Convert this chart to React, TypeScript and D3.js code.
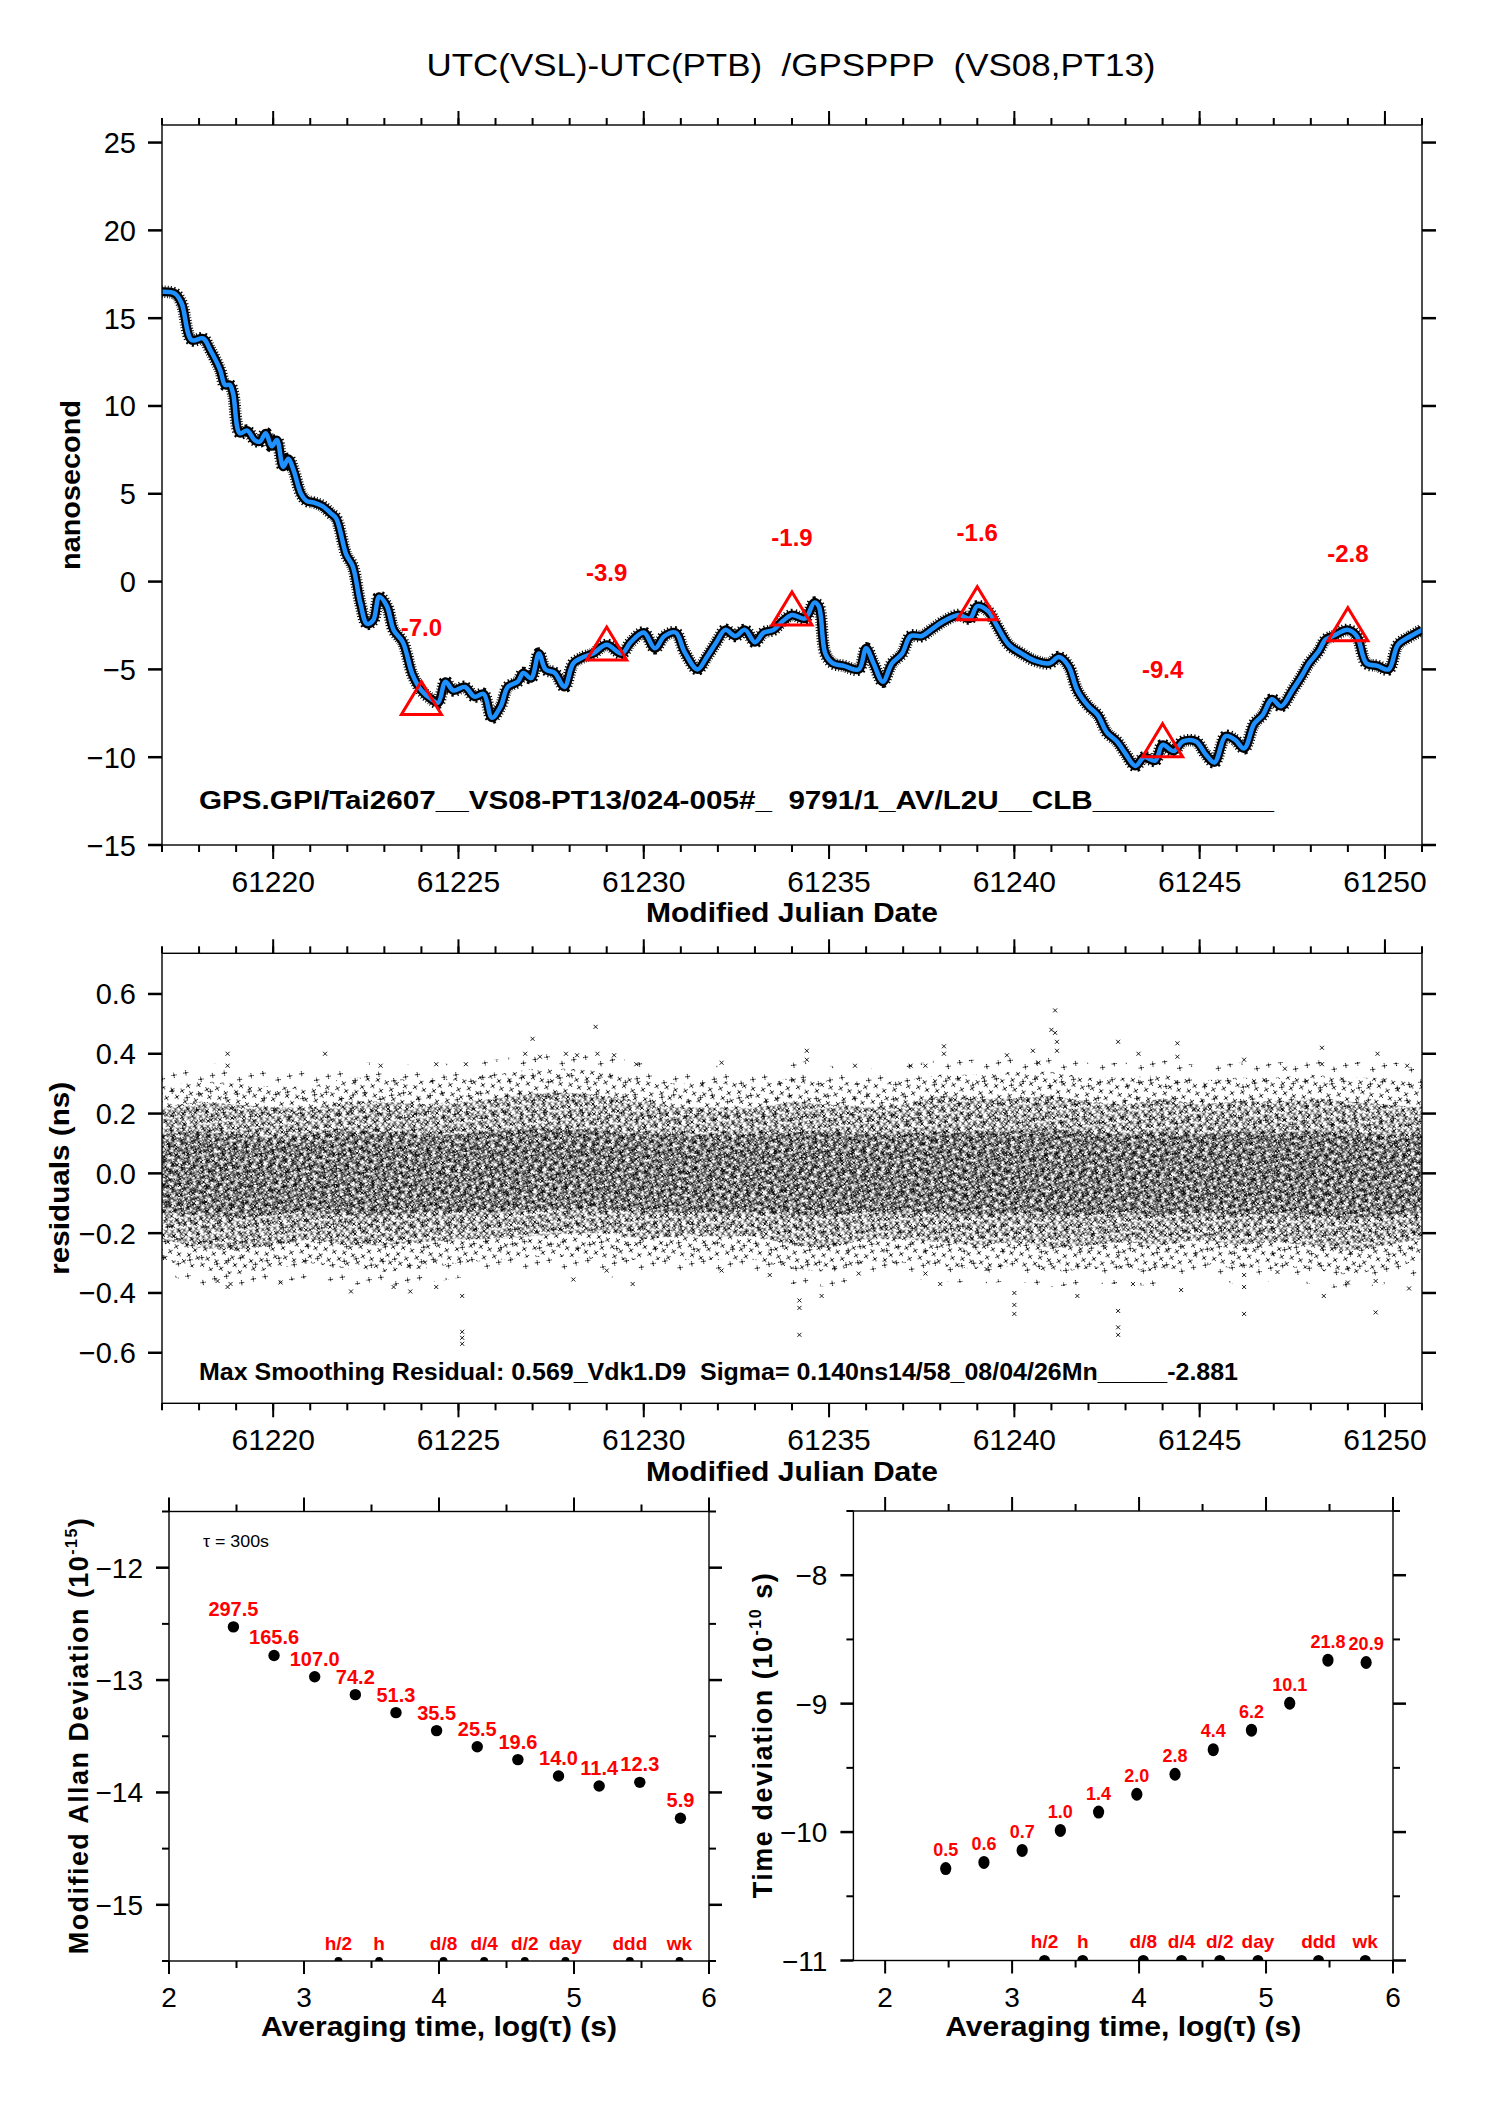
import React from 'react';
import * as d3 from 'd3';

const FONT = '"Liberation Sans", Arial, Helvetica, sans-serif';
const RED = '#ff0000';
const BLUE = '#1e90ff';

// top panel: UTC(VSL)-UTC(PTB) in ns, smoothed trace
const traceMjd = [
  61217.0, 61217.35, 61217.53, 61217.8, 61218.11, 61218.3, 61218.57, 61218.7, 61218.83, 61218.92,
  61219.1, 61219.3, 61219.5, 61219.64, 61219.8, 61219.96, 61220.1, 61220.27, 61220.41, 61220.55,
  61220.75, 61220.9, 61221.1, 61221.33, 61221.55, 61221.7, 61221.97, 61222.15, 61222.35, 61222.53,
  61222.7, 61222.86, 61223.07, 61223.25, 61223.5, 61223.76, 61224.0, 61224.27, 61224.45, 61224.65,
  61224.86, 61225.17, 61225.43, 61225.68, 61225.9, 61226.14, 61226.33, 61226.6, 61226.75, 61226.96,
  61227.17, 61227.35, 61227.6, 61227.86, 61228.1, 61228.37, 61228.63, 61229.0, 61229.4, 61229.65,
  61230.0, 61230.3, 61230.56, 61230.86, 61231.1, 61231.45, 61231.7, 61231.96, 61232.2, 61232.47,
  61232.73, 61233.0, 61233.24, 61233.5, 61233.75, 61234.0, 61234.35, 61234.6, 61234.72, 61234.9,
  61235.1, 61235.4, 61235.8, 61236.0, 61236.2, 61236.45, 61236.7, 61236.97, 61237.2, 61237.5,
  61237.75, 61238.1, 61238.5, 61238.8, 61239.0, 61239.3, 61239.5, 61239.85, 61240.2, 61240.55,
  61240.95, 61241.2, 61241.46, 61241.7, 61242.0, 61242.25, 61242.5, 61242.77, 61243.0, 61243.27,
  61243.5, 61243.8, 61244.0, 61244.3, 61244.55, 61244.9, 61245.15, 61245.4, 61245.7, 61245.95,
  61246.2, 61246.47, 61246.7, 61246.95, 61247.2, 61247.5, 61247.76, 61247.95, 61248.2, 61248.4,
  61248.6, 61249.0, 61249.24, 61249.5, 61249.8, 61250.1, 61250.35, 61250.7, 61251.0,
];
const traceNs = [
  16.5, 16.4, 15.85, 13.75, 13.85, 13.2, 12.05, 11.2, 11.2, 10.7,
  8.45, 8.6, 8.05, 7.97, 8.45, 7.7, 8.06, 6.54, 7.0, 6.35,
  5.0, 4.6, 4.5, 4.3, 3.9, 3.6, 1.55, 0.86, -1.2, -2.4,
  -2.2, -0.86, -1.4, -2.75, -3.45, -5.3, -6.2, -6.7, -6.9, -5.7,
  -6.2, -6.0, -6.55, -6.4, -7.75, -7.1, -6.0, -5.7, -5.2, -5.5,
  -4.1, -5.0, -5.2, -6.0, -4.65, -4.3, -4.1, -3.6, -4.1, -3.45,
  -2.9, -3.8, -3.1, -2.9, -4.0, -5.0, -4.3, -3.45, -2.75, -3.1,
  -2.75, -3.45, -2.9, -2.75, -2.25, -1.9, -2.1, -1.2, -1.4, -4.1,
  -4.65, -4.8, -5.0, -3.8, -4.65, -5.7, -4.65, -4.1, -3.1, -3.1,
  -2.75, -2.25, -1.9, -2.1, -1.4, -1.7, -2.4, -3.6, -4.1, -4.5,
  -4.65, -4.3, -4.8, -6.2, -7.1, -7.6, -8.6, -9.1, -9.8, -10.5,
  -10.0, -10.2, -9.3, -9.65, -9.1, -9.1, -9.8, -10.3, -8.8, -9.0,
  -9.5, -8.1, -7.6, -6.7, -7.1, -6.2, -5.35, -4.65, -4.0, -3.3,
  -3.1, -2.75, -3.1, -4.65, -4.8, -5.0, -3.6, -3.1, -2.75,
];

const markerMjd = [61224, 61229, 61234, 61239, 61244, 61249];
const markerNs = [-7.0, -3.9, -1.9, -1.6, -9.4, -2.8];

// residuals panel: density band edges per day, plus the stray points
const bandMjd = d3.range(61217, 61252);
const bandFringeHi = [0.34, 0.38, 0.35, 0.34, 0.35, 0.37, 0.37, 0.36, 0.37, 0.38, 0.40, 0.40, 0.39, 0.37, 0.35, 0.36, 0.35, 0.38, 0.36, 0.35, 0.36, 0.38, 0.38, 0.39, 0.40, 0.37, 0.37, 0.38, 0.36, 0.37, 0.37, 0.38, 0.37, 0.38, 0.35];
const bandFringeLo = [-0.33, -0.38, -0.39, -0.37, -0.35, -0.37, -0.38, -0.37, -0.35, -0.34, -0.33, -0.33, -0.35, -0.34, -0.33, -0.33, -0.34, -0.37, -0.38, -0.35, -0.35, -0.36, -0.37, -0.36, -0.38, -0.37, -0.37, -0.38, -0.35, -0.37, -0.36, -0.37, -0.39, -0.37, -0.34];
const bandOuterHi = [0.29, 0.31, 0.30, 0.29, 0.29, 0.32, 0.32, 0.31, 0.32, 0.33, 0.35, 0.35, 0.34, 0.31, 0.30, 0.31, 0.30, 0.32, 0.31, 0.30, 0.31, 0.33, 0.33, 0.34, 0.34, 0.32, 0.32, 0.33, 0.31, 0.32, 0.32, 0.33, 0.32, 0.32, 0.30];
const bandOuterLo = [-0.29, -0.32, -0.34, -0.32, -0.30, -0.32, -0.33, -0.32, -0.30, -0.29, -0.28, -0.28, -0.29, -0.29, -0.29, -0.29, -0.29, -0.32, -0.33, -0.30, -0.30, -0.31, -0.32, -0.31, -0.33, -0.32, -0.32, -0.33, -0.30, -0.32, -0.31, -0.32, -0.34, -0.32, -0.29];
const bandMidHi = [0.22, 0.24, 0.23, 0.22, 0.22, 0.24, 0.24, 0.23, 0.24, 0.25, 0.27, 0.27, 0.26, 0.24, 0.22, 0.22, 0.22, 0.24, 0.23, 0.22, 0.23, 0.26, 0.25, 0.25, 0.26, 0.24, 0.23, 0.25, 0.23, 0.24, 0.24, 0.25, 0.24, 0.23, 0.22];
const bandMidLo = [-0.22, -0.25, -0.26, -0.24, -0.22, -0.24, -0.24, -0.23, -0.22, -0.22, -0.21, -0.20, -0.20, -0.22, -0.21, -0.21, -0.21, -0.24, -0.25, -0.22, -0.22, -0.23, -0.24, -0.23, -0.25, -0.24, -0.23, -0.24, -0.22, -0.24, -0.23, -0.24, -0.26, -0.24, -0.22];
const bandCoreHi = [0.13, 0.14, 0.13, 0.12, 0.13, 0.14, 0.14, 0.13, 0.13, 0.14, 0.15, 0.15, 0.14, 0.13, 0.13, 0.13, 0.13, 0.14, 0.14, 0.13, 0.13, 0.14, 0.14, 0.14, 0.15, 0.14, 0.13, 0.14, 0.13, 0.14, 0.14, 0.14, 0.14, 0.13, 0.13];
const bandCoreLo = [-0.13, -0.14, -0.15, -0.14, -0.13, -0.14, -0.14, -0.13, -0.13, -0.13, -0.12, -0.12, -0.12, -0.13, -0.13, -0.13, -0.13, -0.14, -0.14, -0.13, -0.13, -0.13, -0.14, -0.13, -0.14, -0.14, -0.13, -0.14, -0.13, -0.14, -0.13, -0.14, -0.15, -0.14, -0.13];

const strayMjd = [
  61218.77, 61218.77, 61221.4, 61225.2, 61227.0, 61226.8, 61227.2, 61227.9, 61228.2, 61228.7,
  61228.75, 61229.2, 61229.8, 61238.1, 61238.1, 61239.8, 61240.5, 61241.0, 61241.1, 61241.1,
  61241.15, 61241.15, 61242.8, 61243.35, 61244.4, 61244.4, 61246.2, 61248.3, 61249.8, 61250.6,
  61248.3, 61240.65, 61237.6, 61237.2, 61235.7, 61234.4, 61234.4, 61232.1, 61222.9, 61224.4,
  61247.3,
  61218.77, 61218.5, 61218.85, 61220.2, 61222.1, 61223.25, 61223.7, 61224.4, 61225.1, 61225.1,
  61225.1, 61225.1, 61228.1, 61229.0, 61229.7, 61234.2, 61234.2, 61234.2, 61234.8, 61237.6,
  61238.0, 61239.25, 61240.0, 61240.0, 61240.0, 61241.7, 61242.8, 61242.8, 61242.8, 61243.2,
  61244.5, 61246.2, 61246.2, 61246.2, 61248.35, 61249.0, 61249.75, 61249.75, 61250.65, 61247.1,
  61232.1, 61233.4, 61235.8,
];
const strayNs = [
  0.40, 0.36, 0.40, 0.365, 0.45, 0.40, 0.39, 0.40, 0.395, 0.49,
  0.40, 0.395, 0.365, 0.425, 0.40, 0.395, 0.41, 0.48, 0.545, 0.47,
  0.44, 0.41, 0.44, 0.40, 0.435, 0.39, 0.38, 0.42, 0.40, 0.36,
  0.365, 0.37, 0.36, 0.36, 0.36, 0.41, 0.38, 0.37, 0.36, 0.365,
  0.35,
  -0.38, -0.36, -0.37, -0.365, -0.395, -0.38, -0.395, -0.38, -0.41, -0.53,
  -0.55, -0.57, -0.355, -0.325, -0.37, -0.425, -0.45, -0.54, -0.41, -0.335,
  -0.37, -0.32, -0.40, -0.44, -0.47, -0.41, -0.46, -0.515, -0.54, -0.37,
  -0.39, -0.34, -0.38, -0.47, -0.41, -0.365, -0.465, -0.36, -0.385, -0.33,
  -0.325, -0.34, -0.335,
];

// stability panels
const tauSec = [300, 600, 1200, 2400, 4800, 9600, 19200, 38400, 76800, 153600, 307200, 614400];
const modAdev = [297.5, 165.6, 107.0, 74.2, 51.3, 35.5, 25.5, 19.6, 14.0, 11.4, 12.3, 5.9]; // 1e-15
const tdev = [0.52, 0.58, 0.72, 1.03, 1.43, 1.97, 2.82, 4.38, 6.22, 10.07, 21.8, 20.9]; // 1e-10 s
const spanSec = [1800, 3600, 10800, 21600, 43200, 86400, 259200, 604800];
const spanLabel = ['h/2', 'h', 'd/8', 'd/4', 'd/2', 'day', 'ddd', 'wk'];

const minus = (s: string) => s.replace('-', '\u2212');
const cross = (cx: number, cy: number, s = 2) =>
  `M${cx - s},${cy - s}L${cx + s},${cy + s}M${cx - s},${cy + s}L${cx + s},${cy - s}`;

type Side = 'top' | 'bottom' | 'left' | 'right';
function Ticks({ side, pos, values, at, len, w = 2 }: {
  side: Side; pos: (v: number) => number; values: number[]; at: number; len: number; w?: number;
}) {
  return (
    <g stroke="black" strokeWidth={w}>
      {values.map((v) => {
        const p = pos(v);
        if (side === 'bottom') return <line key={v} x1={p} x2={p} y1={at} y2={at + len} />;
        if (side === 'top') return <line key={v} x1={p} x2={p} y1={at} y2={at - len} />;
        if (side === 'left') return <line key={v} y1={p} y2={p} x1={at} x2={at - len} />;
        return <line key={v} y1={p} y2={p} x1={at} x2={at + len} />;
      })}
    </g>
  );
}

export default function App() {
  const xT = d3.scaleLinear().domain([61217, 61251]).range([162, 1422]);
  const yT = d3.scaleLinear().domain([-15, 26]).range([845, 125]);
  const yR = d3.scaleLinear().domain([-0.769, 0.736]).range([1403.3, 953.3]);
  const xA = d3.scaleLinear().domain([2, 6]).range([169, 709]);
  const yA = d3.scaleLinear().domain([-15.5, -11.5]).range([1961, 1511.5]);
  const xD = d3.scaleLinear().domain([1.75, 6]).range([853.4, 1393]);
  const yD = d3.scaleLinear().domain([-11, -7.5]).range([1960.5, 1511]);

  const trace = d3.line<number>()
    .x((_, i) => xT(traceMjd[i]))
    .y((d) => yT(d))
    .curve(d3.curveCatmullRom.alpha(0.5))(traceNs) ?? '';

  const band = (hi: number[], lo: number[]) =>
    d3.area<number>()
      .x((_, i) => xT(bandMjd[i]))
      .y0((_, i) => yR(lo[i]))
      .y1((d) => yR(d))(hi) ?? '';

  const dayTicks = d3.range(61217, 61252);
  const fiveTicks = d3.range(61220, 61251, 5);
  const tLabelY = 892;
  const rLabelY = 1450;

  const [tx0, tx1] = xT.range();
  const [ty1, ty0] = yT.range();
  const [ry1, ry0] = yR.range();
  const [ax0, ax1] = xA.range();
  const [ay1, ay0] = yA.range();
  const [dx0, dx1] = xD.range();
  const [dy1, dy0] = yD.range();

  return (
    <svg width={1488} height={2105} style={{ position: 'absolute', left: 0, top: 0, background: 'white' }}
      fontFamily={FONT}>
      <defs>
        <clipPath id="clipTop"><rect x={tx0} y={ty0} width={tx1 - tx0} height={ty1 - ty0} /></clipPath>
        <clipPath id="clipRes"><rect x={tx0} y={ry0} width={tx1 - tx0} height={ry1 - ry0} /></clipPath>
        <clipPath id="clipA"><rect x={ax0} y={ay0} width={ax1 - ax0} height={ay1 - ay0} /></clipPath>
        <clipPath id="clipD"><rect x={dx0} y={dy0} width={dx1 - dx0} height={dy1 - dy0} /></clipPath>
        <pattern id="fuzzFringe" width={31} height={23} patternUnits="userSpaceOnUse" patternTransform="rotate(37)">
          <path d={cross(4, 5) + cross(19, 9) + cross(11, 18)} stroke="black" strokeWidth={0.9} />
        </pattern>
        <pattern id="fuzzSparse" width={19} height={16} patternUnits="userSpaceOnUse" patternTransform="rotate(11)">
          <path d={cross(3, 3) + cross(12, 6) + cross(7, 12) + cross(16, 13)} stroke="black" strokeWidth={0.9} />
        </pattern>
        <pattern id="fuzzMid" width={12} height={10} patternUnits="userSpaceOnUse" patternTransform="rotate(-7)">
          <path d={cross(3, 2.5) + cross(9, 3.5) + cross(5.5, 7) + cross(10, 8)} stroke="black" strokeWidth={0.95} />
        </pattern>
        <pattern id="fuzzCore" width={10} height={8} patternUnits="userSpaceOnUse" patternTransform="rotate(23)">
          <path d={cross(2.5, 2.5) + cross(7, 3.5) + cross(4.5, 6)} stroke="black" strokeWidth={0.9} />
        </pattern>
      </defs>

      <text x={791} y={76} fontSize={31} textAnchor="middle" textLength={729} lengthAdjust="spacingAndGlyphs"
        style={{ whiteSpace: 'pre' }}>UTC(VSL)-UTC(PTB)  /GPSPPP  (VS08,PT13)</text>

      {/* ---------- top panel ---------- */}
      <g clipPath="url(#clipTop)" fill="none" strokeLinejoin="round">
        <path d={trace} stroke="black" strokeWidth={9} />
        <path d={trace} stroke="black" strokeWidth={12.5} strokeDasharray="0.9 1.8" />
        <path d={trace} stroke={BLUE} strokeWidth={4.5} />
      </g>
      {markerMjd.map((m, i) => {
        const x = xT(m), y = yT(markerNs[i]);
        return (
          <g key={m}>
            <path d={`M${x},${y - 23}L${x + 20},${y + 10}L${x - 20},${y + 10}Z`} fill="none" stroke={RED} strokeWidth={3} />
            <text x={x} y={y - 69} fill={RED} fontSize={24} fontWeight="bold" textAnchor="middle">
              {markerNs[i].toFixed(1)}
            </text>
          </g>
        );
      })}
      <text x={199} y={809} fontSize={26} fontWeight="bold" textLength={1075} lengthAdjust="spacingAndGlyphs"
        style={{ whiteSpace: 'pre' }}>GPS.GPI/Tai2607__VS08-PT13/024-005#_  9791/1_AV/L2U__CLB___________</text>

      <rect x={tx0} y={ty0} width={tx1 - tx0} height={ty1 - ty0} fill="none" stroke="black" strokeWidth={1.4} />
      <Ticks side="top" pos={xT} values={dayTicks} at={ty0} len={7} />
      <Ticks side="top" pos={xT} values={fiveTicks} at={ty0} len={14} />
      <Ticks side="bottom" pos={xT} values={dayTicks} at={ty1} len={7} />
      <Ticks side="bottom" pos={xT} values={fiveTicks} at={ty1} len={14} />
      <Ticks side="left" pos={yT} values={d3.range(-15, 26, 5)} at={tx0} len={14} w={2.5} />
      <Ticks side="right" pos={yT} values={d3.range(-15, 26, 5)} at={tx1} len={14} w={2.5} />
      {d3.range(-15, 26, 5).map((v) => (
        <text key={v} x={tx0 - 26} y={yT(v) + 10.5} fontSize={29} textAnchor="end">{minus(String(v))}</text>
      ))}
      {fiveTicks.map((v) => (
        <text key={v} x={xT(v)} y={tLabelY} fontSize={30} textAnchor="middle">{v}</text>
      ))}
      <text x={792} y={922} fontSize={28} fontWeight="bold" textAnchor="middle" textLength={292}
        lengthAdjust="spacingAndGlyphs">Modified Julian Date</text>
      <text transform={`translate(80,${(ty0 + ty1) / 2}) rotate(-90)`} fontSize={28} fontWeight="bold"
        textAnchor="middle" textLength={170} lengthAdjust="spacingAndGlyphs">nanosecond</text>

      {/* ---------- residuals panel ---------- */}
      <g clipPath="url(#clipRes)">
        <path d={band(bandFringeHi, bandFringeLo)} fill="url(#fuzzFringe)" />
        <path d={band(bandOuterHi, bandOuterLo)} fill="url(#fuzzSparse)" />
        <path d={band(bandMidHi, bandMidLo)} fill="url(#fuzzMid)" />
        <path d={band(bandCoreHi, bandCoreLo)} fill="url(#fuzzCore)" />
        <path d={strayMjd.map((m, i) => cross(xT(m), yR(strayNs[i]))).join('')} stroke="black" strokeWidth={0.9} fill="none" />
      </g>
      <text x={199} y={1380} fontSize={23} fontWeight="bold" textLength={1039} lengthAdjust="spacingAndGlyphs"
        style={{ whiteSpace: 'pre' }}>Max Smoothing Residual: 0.569_Vdk1.D9  Sigma= 0.140ns14/58_08/04/26Mn_____-2.881</text>
      <rect x={tx0} y={ry0} width={tx1 - tx0} height={ry1 - ry0} fill="none" stroke="black" strokeWidth={1.4} />
      <Ticks side="top" pos={xT} values={dayTicks} at={ry0} len={7} />
      <Ticks side="top" pos={xT} values={fiveTicks} at={ry0} len={14} />
      <Ticks side="bottom" pos={xT} values={dayTicks} at={ry1} len={7} />
      <Ticks side="bottom" pos={xT} values={fiveTicks} at={ry1} len={14} />
      <Ticks side="left" pos={yR} values={[-0.6, -0.4, -0.2, 0, 0.2, 0.4, 0.6]} at={tx0} len={14} w={2.5} />
      <Ticks side="right" pos={yR} values={[-0.6, -0.4, -0.2, 0, 0.2, 0.4, 0.6]} at={tx1} len={14} w={2.5} />
      {[-0.6, -0.4, -0.2, 0, 0.2, 0.4, 0.6].map((v) => (
        <text key={v} x={tx0 - 26} y={yR(v) + 10.5} fontSize={29} textAnchor="end">{minus(v.toFixed(1))}</text>
      ))}
      {fiveTicks.map((v) => (
        <text key={v} x={xT(v)} y={rLabelY} fontSize={30} textAnchor="middle">{v}</text>
      ))}
      <text x={792} y={1481} fontSize={28} fontWeight="bold" textAnchor="middle" textLength={292}
        lengthAdjust="spacingAndGlyphs">Modified Julian Date</text>
      <text transform={`translate(69,${(ry0 + ry1) / 2}) rotate(-90)`} fontSize={28} fontWeight="bold"
        textAnchor="middle" textLength={193} lengthAdjust="spacingAndGlyphs">residuals (ns)</text>

      {/* ---------- modified Allan deviation ---------- */}
      <text x={203} y={1547} fontSize={16} textLength={66} lengthAdjust="spacingAndGlyphs">τ = 300s</text>
      {tauSec.map((t, i) => {
        const x = xA(Math.log10(t)), y = yA(Math.log10(modAdev[i] * 1e-15));
        return (
          <g key={t}>
            <circle cx={x} cy={y} r={5.7} fill="black" />
            <text x={x} y={y - 11} fill={RED} fontSize={20} fontWeight="bold" textAnchor="middle">{modAdev[i].toFixed(1)}</text>
          </g>
        );
      })}
      <g clipPath="url(#clipA)">
        {spanSec.map((s) => <circle key={s} cx={xA(Math.log10(s))} cy={ay1} r={4} fill="black" />)}
      </g>
      {spanSec.map((s, i) => (
        <text key={s} x={xA(Math.log10(s))} y={1950} fill={RED} fontSize={19} fontWeight="bold" textAnchor="middle">{spanLabel[i]}</text>
      ))}
      <rect x={ax0} y={ay0} width={ax1 - ax0} height={ay1 - ay0} fill="none" stroke="black" strokeWidth={1.4} />
      <Ticks side="top" pos={xA} values={[2, 3, 4, 5, 6]} at={ay0} len={14} />
      <Ticks side="top" pos={xA} values={[2.5, 3.5, 4.5, 5.5]} at={ay0} len={7} />
      <Ticks side="bottom" pos={xA} values={[2, 3, 4, 5, 6]} at={ay1} len={13} />
      <Ticks side="bottom" pos={xA} values={[2.5, 3.5, 4.5, 5.5]} at={ay1} len={7} />
      <Ticks side="left" pos={yA} values={[-15, -14, -13, -12]} at={ax0} len={13} w={2.5} />
      <Ticks side="left" pos={yA} values={[-15.5, -14.5, -13.5, -12.5, -11.5]} at={ax0} len={7} />
      <Ticks side="right" pos={yA} values={[-15, -14, -13, -12]} at={ax1} len={13} w={2.5} />
      <Ticks side="right" pos={yA} values={[-15.5, -14.5, -13.5, -12.5, -11.5]} at={ax1} len={7} />
      {[-15, -14, -13, -12].map((v) => (
        <text key={v} x={ax0 - 26} y={yA(v) + 10} fontSize={28} textAnchor="end">{minus(String(v))}</text>
      ))}
      {[2, 3, 4, 5, 6].map((v) => (
        <text key={v} x={xA(v)} y={2007} fontSize={28} textAnchor="middle">{v}</text>
      ))}
      <text x={(ax0 + ax1) / 2} y={2036} fontSize={27} fontWeight="bold" textAnchor="middle" textLength={356}
        lengthAdjust="spacingAndGlyphs">Averaging time, log(τ) (s)</text>
      <text transform={`translate(88,${(ay0 + ay1) / 2}) rotate(-90)`} fontSize={27} fontWeight="bold"
        textAnchor="middle" textLength={436} lengthAdjust="spacing">
        Modified Allan Deviation (10<tspan fontSize={16} dy={-11}>-15</tspan><tspan dy={11}>)</tspan>
      </text>

      {/* ---------- time deviation ---------- */}
      {tauSec.map((t, i) => {
        const x = xD(Math.log10(t)), y = yD(Math.log10(tdev[i] * 1e-10));
        return (
          <g key={t}>
            <ellipse cx={x} cy={y} rx={5.6} ry={6.5} fill="black" />
            <text x={x} y={y - 12.5} fill={RED} fontSize={18} fontWeight="bold" textAnchor="middle">{tdev[i].toFixed(1)}</text>
          </g>
        );
      })}
      <g clipPath="url(#clipD)">
        {spanSec.map((s) => <circle key={s} cx={xD(Math.log10(s))} cy={dy1} r={5.5} fill="black" />)}
      </g>
      {spanSec.map((s, i) => (
        <text key={s} x={xD(Math.log10(s))} y={1948} fill={RED} fontSize={19} fontWeight="bold" textAnchor="middle">{spanLabel[i]}</text>
      ))}
      <rect x={dx0} y={dy0} width={dx1 - dx0} height={dy1 - dy0} fill="none" stroke="black" strokeWidth={1.4} />
      <Ticks side="top" pos={xD} values={[2, 3, 4, 5, 6]} at={dy0} len={14} />
      <Ticks side="top" pos={xD} values={[2.5, 3.5, 4.5, 5.5]} at={dy0} len={7} />
      <Ticks side="bottom" pos={xD} values={[2, 3, 4, 5, 6]} at={dy1} len={13} />
      <Ticks side="bottom" pos={xD} values={[2.5, 3.5, 4.5, 5.5]} at={dy1} len={7} />
      <Ticks side="left" pos={yD} values={[-11, -10, -9, -8]} at={dx0} len={13} w={2.5} />
      <Ticks side="left" pos={yD} values={[-10.5, -9.5, -8.5, -7.5]} at={dx0} len={7} />
      <Ticks side="right" pos={yD} values={[-11, -10, -9, -8]} at={dx1} len={13} w={2.5} />
      <Ticks side="right" pos={yD} values={[-10.5, -9.5, -8.5, -7.5]} at={dx1} len={7} />
      {[-11, -10, -9, -8].map((v) => (
        <text key={v} x={dx0 - 26} y={yD(v) + 10} fontSize={28} textAnchor="end">{minus(String(v))}</text>
      ))}
      {[2, 3, 4, 5, 6].map((v) => (
        <text key={v} x={xD(v)} y={2007} fontSize={28} textAnchor="middle">{v}</text>
      ))}
      <text x={(dx0 + dx1) / 2} y={2036} fontSize={27} fontWeight="bold" textAnchor="middle" textLength={356}
        lengthAdjust="spacingAndGlyphs">Averaging time, log(τ) (s)</text>
      <text transform={`translate(772,${(dy0 + dy1) / 2}) rotate(-90)`} fontSize={27} fontWeight="bold"
        textAnchor="middle" textLength={325} lengthAdjust="spacing">
        Time deviation (10<tspan fontSize={16} dy={-11}>-10</tspan><tspan dy={11}> s)</tspan>
      </text>
    </svg>
  );
}
